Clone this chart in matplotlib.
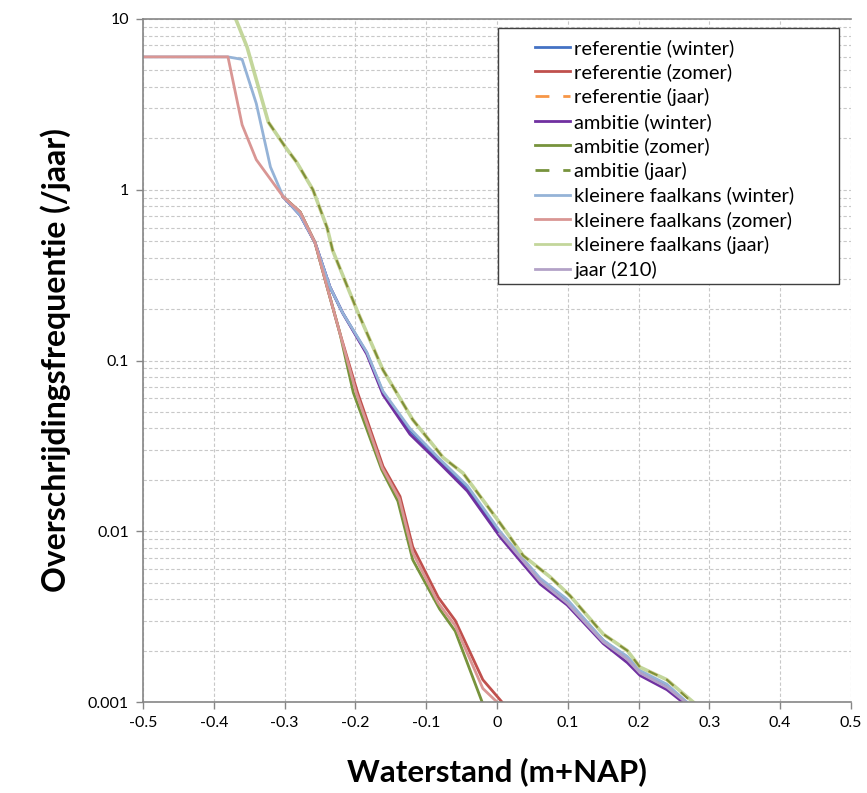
import matplotlib
matplotlib.use("Agg")
import matplotlib.pyplot as plt
from matplotlib.patches import Rectangle
from matplotlib.ticker import FixedLocator, FixedFormatter, LogLocator, NullFormatter

# waterstand (m+NAP) and overschrijdingsfrequentie (/jaar)
ref_winter_x = [-0.302, -0.278, -0.257, -0.236, -0.218, -0.184, -0.161, -0.123, -0.081,
                -0.042, 0.004, 0.037, 0.061, 0.099, 0.150, 0.184, 0.202, 0.240, 0.266]
ref_winter_y = [0.91, 0.71, 0.49, 0.27, 0.19, 0.111, 0.065, 0.039, 0.026,
                0.018, 0.0098, 0.0068, 0.0052, 0.0039, 0.0023, 0.0018, 0.0015, 0.00124, 0.001]

amb_winter_x = [-0.302, -0.278, -0.257, -0.236, -0.218, -0.184, -0.161, -0.123, -0.081,
                -0.042, 0.004, 0.037, 0.061, 0.099, 0.150, 0.184, 0.202, 0.240, 0.262]
amb_winter_y = [0.91, 0.71, 0.49, 0.27, 0.19, 0.109, 0.063, 0.037, 0.025,
                0.0172, 0.0093, 0.0064, 0.0049, 0.0037, 0.0022, 0.0017, 0.00143, 0.00118, 0.001]

kf_winter_x = [-0.50, -0.38, -0.36, -0.34, -0.32, -0.302, -0.278, -0.257, -0.236, -0.218,
               -0.184, -0.161, -0.123, -0.081, -0.042, 0.004, 0.037, 0.061, 0.099, 0.150,
               0.184, 0.202, 0.240, 0.268]
kf_winter_y = [6.0, 6.0, 5.8, 3.2, 1.36, 0.91, 0.71, 0.49, 0.27, 0.19,
               0.112, 0.066, 0.040, 0.0265, 0.0185, 0.0100, 0.0069, 0.0053, 0.0040, 0.0023,
               0.00185, 0.00153, 0.00127, 0.001]

ref_zomer_x = [-0.302, -0.278, -0.257, -0.240, -0.222, -0.197, -0.161, -0.137, -0.119,
               -0.083, -0.059, -0.020, 0.007]
ref_zomer_y = [0.91, 0.74, 0.49, 0.27, 0.145, 0.065, 0.024, 0.016, 0.0081,
               0.0041, 0.0030, 0.00135, 0.001]

amb_zomer_x = [-0.302, -0.278, -0.257, -0.240, -0.222, -0.203, -0.163, -0.140, -0.119,
               -0.081, -0.059, -0.021]
amb_zomer_y = [0.91, 0.74, 0.49, 0.27, 0.145, 0.065, 0.023, 0.015, 0.0068,
               0.0035, 0.0026, 0.001]

kf_zomer_x = [-0.50, -0.38, -0.36, -0.34, -0.302, -0.278, -0.257, -0.240, -0.222, -0.199,
              -0.162, -0.138, -0.119, -0.083, -0.059, -0.020, 0.000]
kf_zomer_y = [6.0, 6.0, 2.4, 1.5, 0.91, 0.74, 0.49, 0.27, 0.145, 0.065,
              0.0235, 0.0155, 0.0075, 0.0038, 0.0028, 0.0012, 0.001]

jaar_x = [-0.323, -0.299, -0.283, -0.260, -0.240, -0.232, -0.198, -0.161, -0.119, -0.076,
          -0.048, 0.004, 0.037, 0.075, 0.103, 0.150, 0.184, 0.202, 0.240, 0.275]
jaar_y = [2.49, 1.78, 1.45, 1.0, 0.60, 0.44, 0.198, 0.088, 0.045, 0.027,
          0.0219, 0.0112, 0.0072, 0.0054, 0.0042, 0.0025, 0.0020, 0.0016, 0.00135, 0.001]

kf_jaar_x = [-0.369, -0.353] + jaar_x[:-1] + [0.277]
kf_jaar_y = [10.0, 6.85] + jaar_y

j210_x = [0.004, 0.037, 0.061, 0.099, 0.150, 0.184, 0.202, 0.240, 0.266]
j210_y = [0.0097, 0.0067, 0.0051, 0.0038, 0.00225, 0.00178, 0.00148, 0.00122, 0.001]

series = [
    ("referentie (winter)", ref_winter_x, ref_winter_y, "#4472C4", "-"),
    ("referentie (zomer)", ref_zomer_x, ref_zomer_y, "#C0504D", "-"),
    ("referentie (jaar)", jaar_x, jaar_y, "#F79646", "--"),
    ("ambitie (winter)", amb_winter_x, amb_winter_y, "#7030A0", "-"),
    ("ambitie (zomer)", amb_zomer_x, amb_zomer_y, "#77933C", "-"),
    ("ambitie (jaar)", jaar_x, jaar_y, "#77933C", "--"),
    ("kleinere faalkans (winter)", kf_winter_x, kf_winter_y, "#95B3D7", "-"),
    ("kleinere faalkans (zomer)", kf_zomer_x, kf_zomer_y, "#D99694", "-"),
    ("kleinere faalkans (jaar)", kf_jaar_x, kf_jaar_y, "#C3D69B", "-"),
    ("jaar (210)", j210_x, j210_y, "#B3A2C7", "-"),
]

plt.rcParams["font.family"] = ["Lato", "DejaVu Sans"]

W, H = 867, 793
fig = plt.figure(figsize=(W / 100, H / 100), dpi=100)
ax = fig.add_axes([143 / W, 1 - 702 / H, (851 - 143) / W, (702 - 19) / H])

for label, xs, ys, color, ls in series:
    if ls == "--":
        # thin dashes on top of the light green year curve, as in the original
        ax.plot(xs, ys, color=color, lw=1.4, ls=(0, (5, 5)), label=label, zorder=2.5)
    elif label.startswith("kleinere faalkans (jaar)"):
        ax.plot(xs, ys, color=color, lw=2.6, label=label, zorder=2)
    else:
        ax.plot(xs, ys, color=color, lw=2.0, label=label, zorder=2)

ax.set_yscale("log")
ax.set_xlim(-0.5, 0.5)
ax.set_ylim(0.001, 10)

xticks = [-0.5, -0.4, -0.3, -0.2, -0.1, 0.0, 0.1, 0.2, 0.3, 0.4, 0.5]
xlabels = ["-0.5", "-0.4", "-0.3", "-0.2", "-0.1", "0", "0.1", "0.2", "0.3", "0.4", "0.5"]
ax.xaxis.set_major_locator(FixedLocator(xticks))
ax.xaxis.set_major_formatter(FixedFormatter(xlabels))
yticks = [0.001, 0.01, 0.1, 1, 10]
ylabels = ["0.001", "0.01", "0.1", "1", "10"]
ax.yaxis.set_major_locator(FixedLocator(yticks))
ax.yaxis.set_major_formatter(FixedFormatter(ylabels))
ax.yaxis.set_minor_locator(LogLocator(base=10, subs=range(2, 10)))
ax.yaxis.set_minor_formatter(NullFormatter())

ax.grid(True, which="major", axis="both", color="#C8C8C8", ls=(0, (3, 2)), lw=0.8)
ax.grid(True, which="minor", axis="y", color="#C8C8C8", ls=(0, (3, 2)), lw=0.8)
ax.tick_params(axis="both", which="major", direction="out", length=5, width=1,
               color="#868686", labelsize=11.5, pad=5)
ax.tick_params(axis="y", which="minor", length=0)

for side in ["left", "bottom", "top"]:
    ax.spines[side].set_color("#868686")
    ax.spines[side].set_linewidth(1.2)
ax.spines["right"].set_visible(False)

ax.set_xlabel("Waterstand (m+NAP)", fontsize=22.5, fontweight="bold", labelpad=20)
ax.set_ylabel("Overschrijdingsfrequentie (/jaar)", fontsize=23, fontweight="bold", labelpad=12)

leg = ax.legend(loc="upper left", bbox_to_anchor=(525 / W, 1 - 29 / H),
                bbox_transform=fig.transFigure, frameon=False, fontsize=14.5,
                handlelength=1.75, handletextpad=0.2, labelspacing=0.33, borderpad=0)
leg.set_zorder(6)
for h in leg.get_lines():
    h.set_linewidth(2.0)
ax.add_patch(Rectangle((498 / W, 1 - 284 / H), (839 - 498) / W, (284 - 28) / H,
                       transform=fig.transFigure, facecolor="white",
                       edgecolor="#404040", lw=1.0, zorder=5, clip_on=False))

fig.savefig("out.png", dpi=100)
